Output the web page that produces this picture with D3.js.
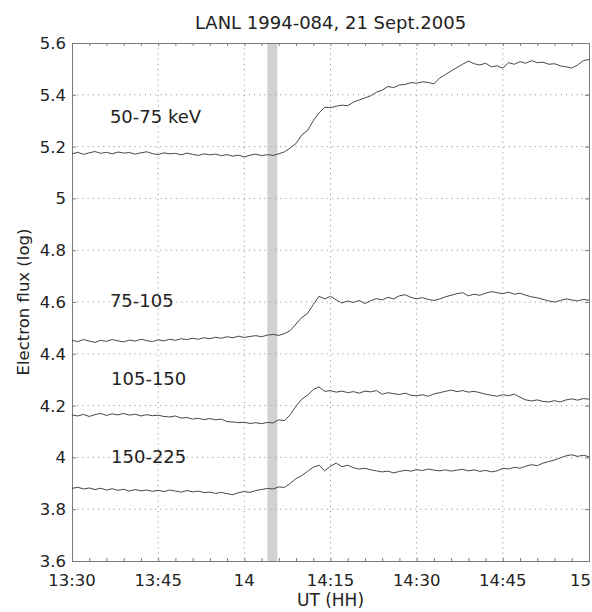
<!DOCTYPE html>
<html>
<head>
<meta charset="utf-8">
<script src="https://cdn.jsdelivr.net/npm/d3@7"></script>
<style>
  body { margin: 0; background: #fff; }
  svg text { font-family: "DejaVu Sans", sans-serif; fill: #222; }
</style>
</head>
<body>
<div id="chart"></div>
<script>
// sample times, minutes after 13:30 UT (one per minute)
const minutes = d3.range(0, 91);

// log electron flux per energy channel
const flux50to75 = [5.172, 5.178, 5.170, 5.176, 5.181, 5.174, 5.178, 5.172, 5.179, 5.175,
  5.177, 5.171, 5.176, 5.180, 5.173, 5.169, 5.176, 5.172, 5.174, 5.168,
  5.175, 5.170, 5.166, 5.172, 5.168, 5.171, 5.165, 5.169, 5.163, 5.167,
  5.160, 5.167, 5.171, 5.165, 5.169, 5.166, 5.172, 5.180, 5.195, 5.212,
  5.245, 5.262, 5.300, 5.330, 5.352, 5.350, 5.356, 5.360, 5.358, 5.372,
  5.380, 5.388, 5.396, 5.410, 5.418, 5.432, 5.428, 5.438, 5.440, 5.447,
  5.445, 5.450, 5.448, 5.442, 5.465, 5.478, 5.492, 5.505, 5.518, 5.530,
  5.520, 5.515, 5.522, 5.508, 5.512, 5.503, 5.524, 5.518, 5.528, 5.522,
  5.532, 5.524, 5.526, 5.518, 5.520, 5.512, 5.508, 5.503, 5.515, 5.532, 5.536];

const flux75to105 = [4.452, 4.447, 4.455, 4.449, 4.444, 4.452, 4.448, 4.455, 4.450, 4.446,
  4.453, 4.449, 4.456, 4.451, 4.447, 4.454, 4.450, 4.456, 4.452, 4.458,
  4.455, 4.460, 4.456, 4.462, 4.458, 4.464, 4.460, 4.466, 4.462, 4.468,
  4.463, 4.467, 4.470, 4.466, 4.472, 4.475, 4.471, 4.478, 4.490, 4.515,
  4.540, 4.556, 4.590, 4.622, 4.612, 4.622, 4.608, 4.596, 4.604, 4.598,
  4.606, 4.594, 4.605, 4.613, 4.608, 4.618, 4.612, 4.624, 4.628, 4.618,
  4.612, 4.617, 4.610, 4.606, 4.612, 4.620, 4.626, 4.632, 4.636, 4.624,
  4.630, 4.626, 4.634, 4.640, 4.636, 4.632, 4.638, 4.630, 4.634, 4.626,
  4.620, 4.616, 4.610, 4.604, 4.600, 4.606, 4.612, 4.608, 4.604, 4.610, 4.607];

const flux105to150 = [4.164, 4.160, 4.166, 4.158, 4.165, 4.170, 4.162, 4.168, 4.164, 4.170,
  4.163, 4.167, 4.160, 4.165, 4.161, 4.163, 4.158, 4.156, 4.160, 4.152,
  4.154, 4.148, 4.151, 4.146, 4.150, 4.145, 4.148, 4.138, 4.137, 4.134,
  4.136, 4.131, 4.134, 4.130, 4.135, 4.133, 4.145, 4.142, 4.165, 4.198,
  4.225, 4.240, 4.262, 4.272, 4.255, 4.258, 4.252, 4.256, 4.250, 4.254,
  4.248, 4.256, 4.253, 4.258, 4.244, 4.250, 4.246, 4.243, 4.248, 4.240,
  4.238, 4.242, 4.236, 4.245, 4.250, 4.255, 4.260, 4.254, 4.258, 4.252,
  4.255, 4.250, 4.244, 4.240, 4.236, 4.242, 4.238, 4.244, 4.232, 4.222,
  4.218, 4.222, 4.216, 4.214, 4.219, 4.214, 4.222, 4.226, 4.221, 4.227, 4.225];

const flux150to225 = [3.880, 3.885, 3.878, 3.882, 3.876, 3.881, 3.874, 3.879, 3.873, 3.877,
  3.870, 3.876, 3.871, 3.874, 3.869, 3.873, 3.868, 3.874, 3.870, 3.866,
  3.872, 3.867, 3.870, 3.864, 3.866, 3.861, 3.865, 3.860, 3.856, 3.864,
  3.868, 3.865, 3.872, 3.876, 3.880, 3.878, 3.886, 3.884, 3.900, 3.918,
  3.930, 3.946, 3.962, 3.970, 3.948, 3.966, 3.978, 3.964, 3.970, 3.960,
  3.955, 3.958, 3.952, 3.948, 3.944, 3.947, 3.940, 3.946, 3.950, 3.947,
  3.953, 3.949, 3.955, 3.951, 3.948, 3.952, 3.947, 3.951, 3.954, 3.948,
  3.952, 3.946, 3.950, 3.944, 3.948, 3.958, 3.955, 3.962, 3.958, 3.966,
  3.972, 3.968, 3.978, 3.984, 3.990, 3.998, 4.006, 4.010, 4.004, 4.008, 4.003];

const seriesLabels = ["50-75 keV", "75-105", "105-150", "150-225"];
// where each label sits: [minute, flux]
const labelSpots = [[6.6, 5.29], [6.6, 4.58], [6.8, 4.28], [6.8, 3.98]];

const xTicks = [0, 15, 30, 45, 60, 75, 90];
const xTickLabels = ["13:30", "13:45", "14", "14:15", "14:30", "14:45", "15"];
const yTicks = [3.6, 3.8, 4, 4.2, 4.4, 4.6, 4.8, 5, 5.2, 5.4, 5.6];

// shaded interval (minutes after 13:30)
const band = [34, 35.75];

const svgWidth = 592, svgHeight = 612,
    margin = { top: 43, right: 3, bottom: 51, left: 72 },
    width = svgWidth - margin.left - margin.right,
    height = svgHeight - margin.top - margin.bottom;

const svg = d3.select("#chart").append("svg")
    .attr("width", svgWidth)
    .attr("height", svgHeight);

const g = svg.append("g")
    .attr("transform", `translate(${margin.left},${margin.top})`);

const x = d3.scaleLinear().domain([0, 90]).range([0, width]);
const y = d3.scaleLinear().domain([3.6, 5.6]).range([height, 0]);

// shaded band
g.append("rect")
    .attr("x", x(band[0]))
    .attr("y", 0)
    .attr("width", x(band[1]) - x(band[0]))
    .attr("height", height)
    .attr("fill", "#d2d2d2");

// dotted grid
g.append("g")
    .selectAll("line")
    .data(xTicks.slice(1, -1))
    .join("line")
    .attr("x1", d => x(d)).attr("x2", d => x(d))
    .attr("y1", 0).attr("y2", height)
    .attr("stroke", "#9a9a9a")
    .attr("stroke-dasharray", "1.2,4");

g.append("g")
    .selectAll("line")
    .data(yTicks.slice(1, -1))
    .join("line")
    .attr("x1", 0).attr("x2", width)
    .attr("y1", d => y(d)).attr("y2", d => y(d))
    .attr("stroke", "#9a9a9a")
    .attr("stroke-dasharray", "1.2,4");

// axes with inward ticks
const minorX = d3.range(0, 91, 3);

const xBottom = g.append("g")
    .attr("transform", `translate(0,${height})`)
    .call(d3.axisBottom(x).tickValues(minorX).tickSize(-3).tickFormat(""));
const xTop = g.append("g")
    .call(d3.axisTop(x).tickValues(minorX).tickSize(-3).tickFormat(""));
const yLeft = g.append("g")
    .call(d3.axisLeft(y).tickValues(yTicks).tickSize(-4).tickFormat(""));
const yRight = g.append("g")
    .attr("transform", `translate(${width},0)`)
    .call(d3.axisRight(y).tickValues(yTicks).tickSize(-4).tickFormat(""));

[xBottom, xTop, yLeft, yRight].forEach(ax => {
    ax.select(".domain").attr("stroke", "#7a7a7a");
    ax.selectAll(".tick line").attr("stroke", "#7a7a7a");
});

// tick labels (the last one is pulled in so it stays on the page)
g.append("g")
    .selectAll("text")
    .data(xTicks)
    .join("text")
    .attr("x", (d, i) => i === xTicks.length - 1 ? svgWidth - margin.left - 1 : x(d))
    .attr("y", height + 25)
    .attr("text-anchor", (d, i) => i === xTicks.length - 1 ? "end" : "middle")
    .attr("font-size", 16.5)
    .text((d, i) => xTickLabels[i]);

g.append("g")
    .selectAll("text")
    .data(yTicks)
    .join("text")
    .attr("x", -6)
    .attr("y", d => y(d))
    .attr("dy", "0.36em")
    .attr("text-anchor", "end")
    .attr("font-size", 16.5)
    .text(d => d3.format("~g")(d));

// curves
const allSeries = [flux50to75, flux75to105, flux105to150, flux150to225];
const line = d3.line()
    .x((d, i) => x(minutes[i]))
    .y(d => y(d));

g.append("g")
    .selectAll("path")
    .data(allSeries)
    .join("path")
    .attr("d", line)
    .attr("fill", "none")
    .attr("stroke", "#474747")
    .attr("stroke-width", 1);

// channel labels
g.append("g")
    .selectAll("text")
    .data(seriesLabels)
    .join("text")
    .attr("x", (d, i) => x(labelSpots[i][0]))
    .attr("y", (d, i) => y(labelSpots[i][1]))
    .attr("font-size", 18)
    .text(d => d);

// title and axis titles
svg.append("text")
    .attr("x", margin.left + width / 2)
    .attr("y", 29)
    .attr("text-anchor", "middle")
    .attr("font-size", 18)
    .text("LANL 1994-084, 21 Sept.2005");

svg.append("text")
    .attr("x", margin.left + width / 2)
    .attr("y", 606)
    .attr("text-anchor", "middle")
    .attr("font-size", 17)
    .text("UT (HH)");

svg.append("text")
    .attr("transform", `translate(29,${margin.top + height / 2}) rotate(-90)`)
    .attr("text-anchor", "middle")
    .attr("font-size", 16.5)
    .text("Electron flux (log)");
</script>
</body>
</html>
